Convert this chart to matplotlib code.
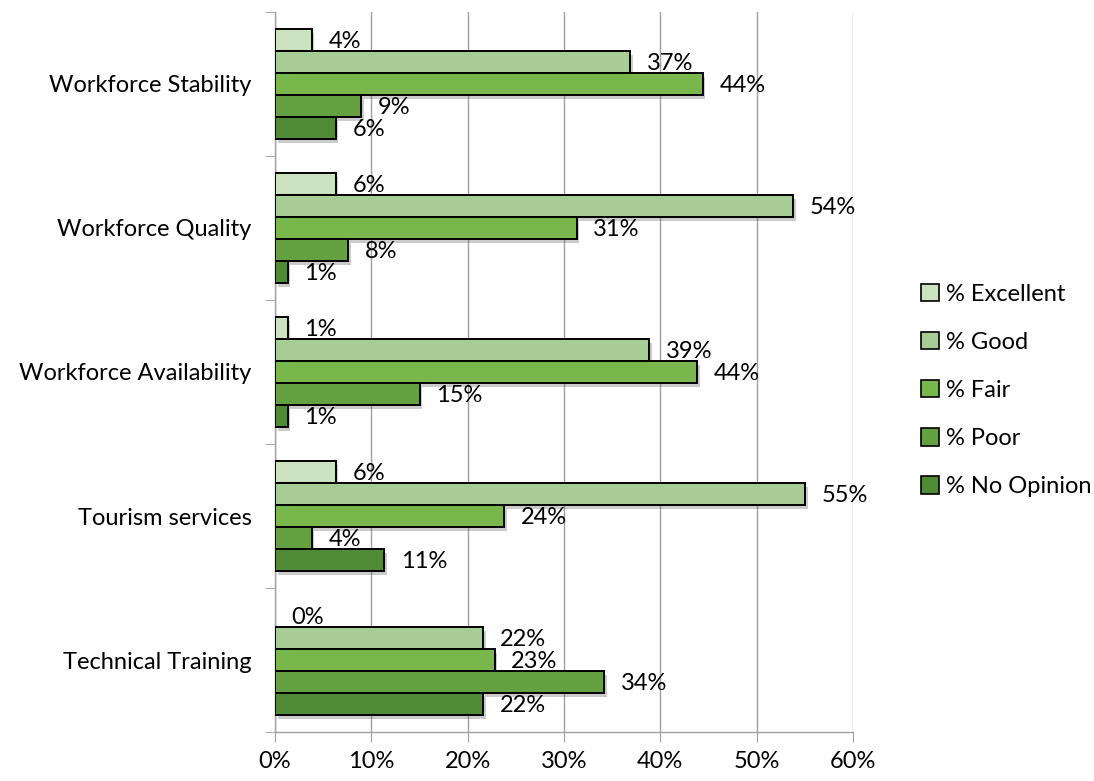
import matplotlib.pyplot as plt
import matplotlib.patheffects as pe
import numpy as np

plt.rcParams["font.family"] = ["Lato", "DejaVu Sans"]

CATEGORIES = ["Workforce Stability", "Workforce Quality", "Workforce Availability",
              "Tourism services", "Technical Training"]
SERIES = ["% Excellent", "% Good", "% Fair", "% Poor", "% No Opinion"]

# values in percent, one list per series, same order as CATEGORIES
EXCELLENT = [3.8, 6.3, 1.3, 6.3, 0.0]
GOOD = [36.9, 53.8, 38.8, 55.0, 21.6]
FAIR = [44.4, 31.3, 43.8, 23.8, 22.8]
POOR = [8.9, 7.6, 15.0, 3.8, 34.2]
NO_OPINION = [6.3, 1.3, 1.3, 11.3, 21.6]

COLORS = ["#cbe1c0", "#a8cc96", "#79b74d", "#66a141", "#528b35"]
FS = 17

fig = plt.figure(figsize=(10.94, 7.81), dpi=100)
ax = fig.add_axes([0.2514, 0.0627, 0.5283, 0.922])

n = len(CATEGORIES)
centers = np.arange(n)[::-1]
h = 0.152

for j, (name, vals) in enumerate(zip(SERIES, [EXCELLENT, GOOD, FAIR, POOR, NO_OPINION])):
    y = centers + (2 - j) * h
    bars = ax.barh(y, vals, height=h, color=COLORS[j], edgecolor="black",
                   linewidth=1.4, label=name, zorder=3)
    for b, v in zip(bars, vals):
        if v == 0:
            b.set_linewidth(0)
        b.set_path_effects([pe.SimplePatchShadow(offset=(2, -3), shadow_rgbFace="#555555", alpha=0.3),
                            pe.Normal()])
    for yy, v in zip(y, vals):
        ax.annotate(f"{v:.0f}%", (v, yy), xytext=(12, -1), textcoords="offset points",
                    ha="left", va="center", fontsize=FS, zorder=5)

ax.set_xlim(0, 60)
ax.set_ylim(-0.5, n - 0.5)
ax.set_xticks(np.arange(0, 61, 10))
ax.set_xticklabels([f"{t}%" for t in range(0, 61, 10)], fontsize=FS)
ax.set_yticks(centers)
ax.set_yticklabels(CATEGORIES, fontsize=FS)
ax.set_yticks(np.arange(-0.5, n, 1), minor=True)

ax.grid(axis="x", color="#a0a0a0", linewidth=1, zorder=0)
for s in ["top", "right"]:
    ax.spines[s].set_visible(False)
for s in ["left", "bottom"]:
    ax.spines[s].set_color("#a0a0a0")
    ax.spines[s].set_linewidth(1)

ax.tick_params(axis="y", which="major", length=0, pad=17)
ax.tick_params(axis="y", which="minor", length=7, color="#a0a0a0", direction="out")
ax.tick_params(axis="x", length=7, color="#a0a0a0", direction="out", pad=7)

handles, labels = ax.get_legend_handles_labels()
leg = fig.legend(handles, labels, loc="center left", bbox_to_anchor=(0.842, 0.50),
                 frameon=False, fontsize=FS, handlelength=0.75, handleheight=0.75,
                 handletextpad=0.3, labelspacing=1.15, borderpad=0, borderaxespad=0)
for hdl in leg.legend_handles:
    hdl.set_path_effects([])
    hdl.set_linewidth(1.2)

fig.savefig("out.png", dpi=100)
